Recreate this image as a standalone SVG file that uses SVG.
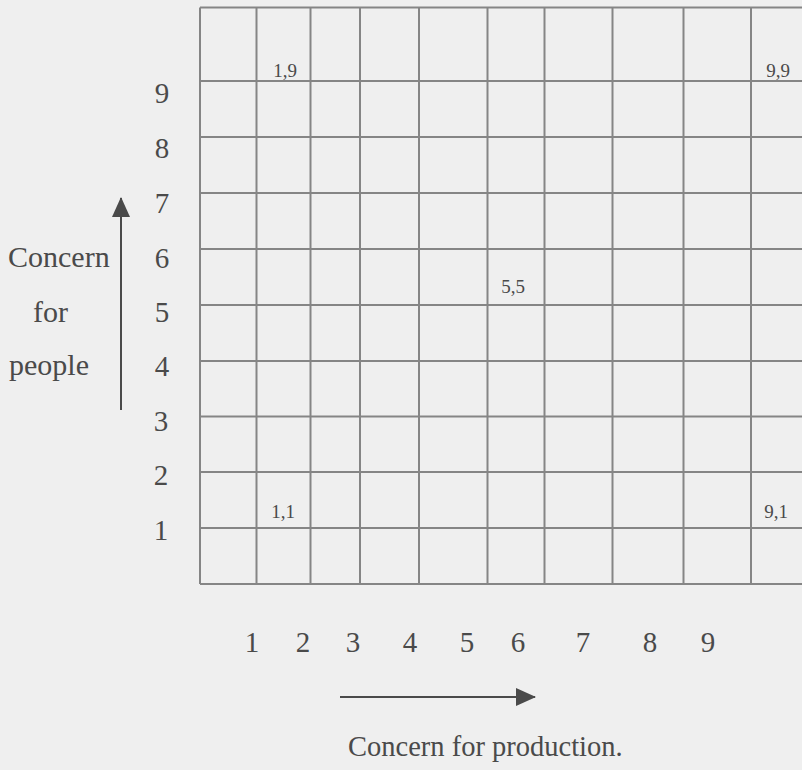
<svg xmlns="http://www.w3.org/2000/svg" width="802" height="770" viewBox="0 0 802 770">
<defs>
<style>
.g{stroke:#858585;stroke-width:2;fill:none}
.t{font-family:"Liberation Serif","Times New Roman",serif;fill:#4a4a4a}
.n{font-size:29px;text-anchor:middle}
.c{font-size:19px;text-anchor:middle}
.l{font-size:30px}
.b{font-size:28.5px}
.a{stroke:#4a4a4a;stroke-width:2;fill:none}
</style>
<marker id="ah" markerWidth="20" markerHeight="18" refX="19" refY="9" orient="auto" markerUnits="userSpaceOnUse" viewBox="0 0 20 18">
<path d="M0,0 L20,9 L0,18 z" fill="#4a4a4a"/>
</marker>
</defs>
<rect width="802" height="770" fill="#efefef"/>
<g id="grid">
<path class="g" d="M200,7.5V584 M256.5,7.5V584 M310.5,7.5V584 M360,7.5V584 M419,7.5V584 M487.5,7.5V584 M544.5,7.5V584 M612.5,7.5V584 M683.5,7.5V584 M751,7.5V584"/>
<path class="g" d="M200,7.5H802 M200,81H802 M200,137H802 M200,193H802 M200,249H802 M200,305H802 M200,361H802 M200,416.5H802 M200,472H802 M200,528H802 M200,584H802"/>
</g>
<g id="cell-labels" class="t c">
<text x="285" y="77">1,9</text>
<text x="778" y="77">9,9</text>
<text x="513" y="293">5,5</text>
<text x="283" y="518">1,1</text>
<text x="776" y="518">9,1</text>
</g>
<g id="y-ticks" class="t n">
<text x="162" y="103">9</text>
<text x="162" y="158">8</text>
<text x="162" y="213">7</text>
<text x="162" y="268">6</text>
<text x="162" y="322">5</text>
<text x="162" y="376">4</text>
<text x="161" y="431">3</text>
<text x="161" y="485">2</text>
<text x="161" y="540">1</text>
</g>
<g id="x-ticks" class="t n">
<text x="252" y="652">1</text>
<text x="303" y="652">2</text>
<text x="353" y="652">3</text>
<text x="410" y="652">4</text>
<text x="467" y="652">5</text>
<text x="518" y="652">6</text>
<text x="583" y="652">7</text>
<text x="650" y="652">8</text>
<text x="708" y="652">9</text>
</g>
<g id="y-axis-label" class="t l">
<text x="8" y="267">Concern</text>
<text x="33" y="322">for</text>
<text x="9" y="375">people</text>
</g>
<g id="x-axis-label" class="t b">
<text x="348" y="756">Concern for production.</text>
</g>
<g id="connectors">
<line class="a" x1="121" y1="410" x2="121" y2="198" marker-end="url(#ah)"/>
<line class="a" x1="340" y1="697" x2="535" y2="697" marker-end="url(#ah)"/>
</g>
</svg>
